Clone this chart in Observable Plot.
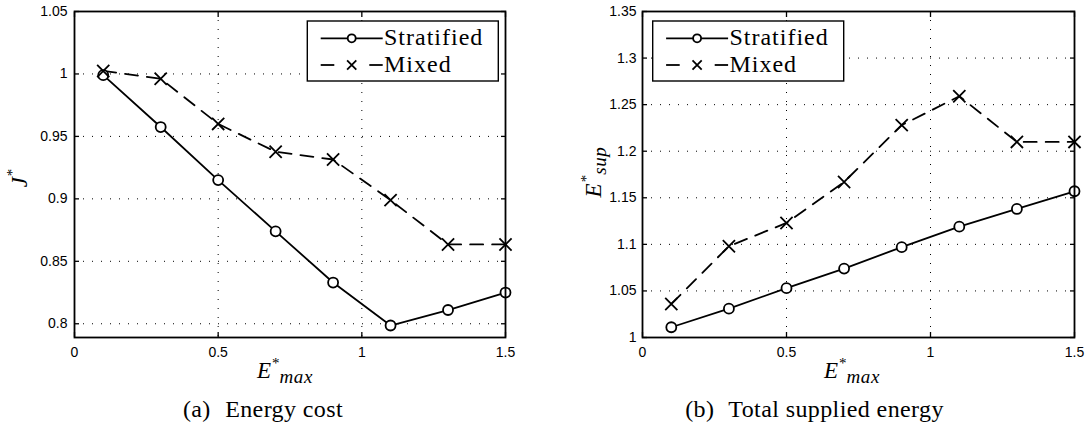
<!DOCTYPE html>
<html>
<head>
<meta charset="utf-8">
<script src="https://cdn.jsdelivr.net/npm/d3@7"></script>
<script src="https://cdn.jsdelivr.net/npm/@observablehq/plot@0.6"></script>
<style>
html, body { margin: 0; padding: 0; background: #fff; }
#wrap { position: relative; width: 1088px; height: 423px; overflow: hidden; background: #fff; }
.panel { position: absolute; top: 0; }
.cap { position: absolute; font-family: "Liberation Serif", serif; font-size: 24px; line-height: 24px; white-space: pre; transform: translateX(-50%); color: #000; letter-spacing: 0.4px; }
.cap .lab { margin-right: 8px; }
</style>
</head>
<body>
<div id="wrap"></div>
<script>
// ---- data ----
const emax = [0.1, 0.3, 0.5, 0.7, 0.9, 1.1, 1.3, 1.5];
const costStratified = [0.999, 0.9575, 0.915, 0.874, 0.833, 0.7986, 0.811, 0.825];
const costMixed = [1.0024, 0.9962, 0.960, 0.9377, 0.9315, 0.899, 0.8635, 0.8635];
const supplyStratified = [1.011, 1.031, 1.053, 1.074, 1.097, 1.119, 1.138, 1.157];
const supplyMixed = [1.036, 1.098, 1.123, 1.167, 1.228, 1.259, 1.210, 1.210];
const seriesNames = ["Stratified", "Mixed"];
const xTicks = [0, 0.5, 1, 1.5];
const costTicks = [0.8, 0.85, 0.9, 0.95, 1, 1.05];
const supplyTicks = [1, 1.05, 1.1, 1.15, 1.2, 1.25, 1.3, 1.35];
const captions = [["(a)", "Energy cost"], ["(b)", "Total supplied energy"]];

const wrap = document.getElementById("wrap");

function mathLabel(svg, x, y, rotate, base, sup, sub) {
  const t = svg.append("text")
    .attr("transform", `translate(${x},${y}) rotate(${rotate})`)
    .attr("font-family", "Liberation Serif, serif")
    .attr("font-style", "italic")
    .attr("font-size", 23)
    .attr("fill", "black")
    .attr("text-anchor", "middle");
  t.append("tspan").text(base);
  t.append("tspan").attr("font-size", 15).attr("font-style", "normal").attr("dy", -10).attr("dx", 1).text(sup);
  if (sub) t.append("tspan").attr("font-size", 19).attr("dx", 0).attr("dy", 15).attr("letter-spacing", 0.6).text(sub);
}

function legend(svg, x0, y0) {
  const g = svg.append("g").attr("transform", `translate(${x0},${y0})`).attr("text-anchor", "start");
  g.append("rect").attr("x", 0).attr("y", 0).attr("width", 191).attr("height", 60)
    .attr("fill", "white").attr("stroke", "black").attr("stroke-width", 1.4);
  const rows = [17.3, 44];
  g.append("line").attr("x1", 13.4).attr("x2", 75.4).attr("y1", rows[0]).attr("y2", rows[0])
    .attr("stroke", "black").attr("stroke-width", 1.8);
  g.append("path").attr("d", d3.symbol(d3.symbolCircle, Math.PI * 16)())
    .attr("transform", `translate(44.4,${rows[0]})`).attr("fill", "white").attr("stroke", "black").attr("stroke-width", 1.8);
  g.append("line").attr("x1", 13.4).attr("x2", 27).attr("y1", rows[1]).attr("y2", rows[1])
    .attr("stroke", "black").attr("stroke-width", 1.8);
  g.append("line").attr("x1", 62).attr("x2", 75.4).attr("y1", rows[1]).attr("y2", rows[1])
    .attr("stroke", "black").attr("stroke-width", 1.8);
  g.append("path").attr("d", d3.symbol(d3.symbolTimes, 57)())
    .attr("transform", `translate(44.4,${rows[1]})`).attr("fill", "none").attr("stroke", "black").attr("stroke-width", 1.8);
  seriesNames.forEach((s, i) => {
    g.append("text").attr("x", 76.7).attr("y", rows[i] + 7)
      .attr("text-anchor", "start")
      .attr("font-family", "Liberation Serif, serif").attr("font-size", 24)
      .attr("letter-spacing", 1).attr("fill", "black").text(s);
  });
}

function panel({left, marginLeft, marginRight, yDomain, yTicks, strat, mixed, yTickPad, ylab, xlabX, legendX}) {
  const rowsS = emax.map((x, i) => ({x, y: strat[i]}));
  const rowsM = emax.map((x, i) => ({x, y: mixed[i]}));
  const innerX = xTicks.slice(1, -1);
  const innerY = yTicks.filter(v => v > yDomain[0] && v < yDomain[1]);
  const chart = Plot.plot({
    width: 544,
    height: 390,
    marginLeft, marginRight,
    marginTop: 11,
    marginBottom: 53,
    x: {domain: [0, 1.5], label: null},
    y: {domain: yDomain, label: null},
    style: {fontFamily: "Liberation Sans, Arial, sans-serif", fontSize: "14px", color: "black", background: "white", overflow: "visible"},
    marks: [
      Plot.gridX(innerX, {stroke: "black", strokeOpacity: 1, strokeWidth: 1, strokeDasharray: "1,8"}),
      Plot.gridY(innerY, {stroke: "black", strokeOpacity: 1, strokeWidth: 1, strokeDasharray: "1,8"}),
      Plot.axisX(xTicks, {anchor: "bottom", tickSize: -5, tickPadding: 15, tickFormat: String, label: null, fill: "black", strokeWidth: 1.3}),
      Plot.axisX(xTicks, {anchor: "top", tickSize: -5, tickFormat: () => "", label: null, strokeWidth: 1.3}),
      Plot.axisY(yTicks, {anchor: "left", tickSize: -5, tickPadding: yTickPad, tickFormat: String, label: null, fill: "black", strokeWidth: 1.3}),
      Plot.axisY(yTicks, {anchor: "right", tickSize: -5, tickFormat: () => "", label: null, strokeWidth: 1.3}),
      Plot.line(rowsS, {x: "x", y: "y", stroke: "black", strokeWidth: 1.8}),
      Plot.line(rowsM, {x: "x", y: "y", stroke: "black", strokeWidth: 1.8, strokeDasharray: "13,9"}),
      Plot.dot(rowsS, {x: "x", y: "y", r: 5, symbol: "circle", stroke: "black", fill: "white", strokeWidth: 1.8}),
      Plot.dot(rowsM, {x: "x", y: "y", r: 5.6, symbol: "times", stroke: "black", strokeWidth: 1.8}),
      Plot.frame({stroke: "black", strokeWidth: 1.8})
    ]
  });
  const holder = document.createElement("div");
  holder.className = "panel";
  holder.style.left = left + "px";
  holder.appendChild(chart);
  wrap.appendChild(holder);
  const svg = d3.select(chart);
  legend(svg, legendX, 21);
  mathLabel(svg, xlabX, 378, 0, "E", "*", "max");
  mathLabel(svg, ylab.x, ylab.y, -90, ylab.base, "*", ylab.sub);
}

panel({
  left: 0, marginLeft: 74, marginRight: 39,
  yDomain: [0.789, 1.05], yTicks: costTicks,
  strat: costStratified, mixed: costMixed, yTickPad: 12,
  ylab: {x: 27, y: 178, base: "J", sub: null},
  xlabX: 285, legendX: 307.3
});
panel({
  left: 544, marginLeft: 98, marginRight: 14,
  yDomain: [1, 1.35], yTicks: supplyTicks,
  strat: supplyStratified, mixed: supplyMixed, yTickPad: 11,
  ylab: {x: 57, y: 172, base: "E", sub: "sup"},
  xlabX: 308, legendX: 108.7
});

[263, 814.5].forEach((cx, i) => {
  const d = document.createElement("div");
  d.className = "cap";
  d.style.left = cx + "px";
  d.style.top = "397px";
  const lab = document.createElement("span");
  lab.className = "lab";
  lab.textContent = captions[i][0];
  d.appendChild(lab);
  d.appendChild(document.createTextNode(" " + captions[i][1]));
  wrap.appendChild(d);
});
</script>
</body>
</html>
